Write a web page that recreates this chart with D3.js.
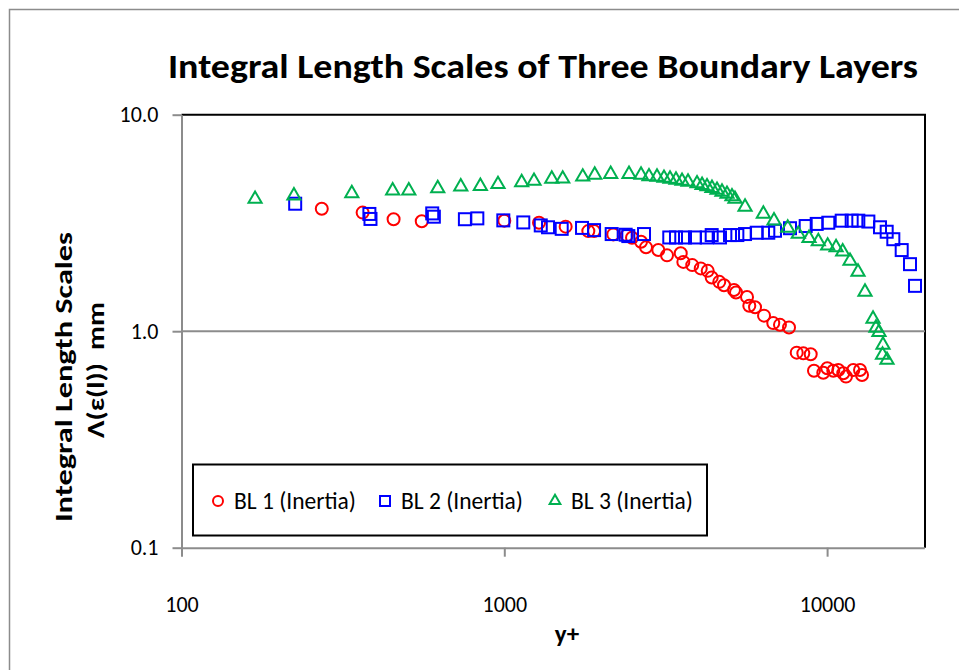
<!DOCTYPE html>
<html>
<head>
<meta charset="utf-8">
<script src="https://cdn.jsdelivr.net/npm/d3@7"></script>
<style>
  html, body { margin: 0; padding: 0; background: #fff; }
  svg { display: block; }
  text { font-family: Carlito, Calibri, Lato, "Open Sans", sans-serif; fill: #000; }
</style>
</head>
<body>
<svg id="chart" width="959" height="670"></svg>
<script>
// Boundary layer 1 (inertial range), y+ and integral length scale in mm
const bl1X = [272, 364, 454, 555, 1000, 1281, 1549, 1821, 1897, 2176, 2394, 2487, 2652, 2748, 3000, 3192,
  3520, 3586, 3822, 4060, 4267, 4390, 4634, 4793, 5147, 5222, 5648, 5741, 5981, 6377, 6811, 7145, 7621,
  8051, 8440, 8896, 9107, 9732, 10014, 10452, 10832, 11223, 11443, 12056, 12647, 12829];
const bl1Y = [3.68, 3.53, 3.29, 3.22, 3.24, 3.17, 3.04, 2.90, 2.90, 2.80, 2.77, 2.70, 2.59, 2.44, 2.37, 2.24,
  2.29, 2.09, 2.02, 1.95, 1.90, 1.77, 1.69, 1.63, 1.55, 1.51, 1.44, 1.31, 1.29, 1.18, 1.09, 1.07, 1.04,
  0.796, 0.790, 0.782, 0.657, 0.643, 0.674, 0.657, 0.662, 0.639, 0.617, 0.662, 0.662, 0.628];

// Boundary layer 2
const bl2X = [225, 382, 385, 598, 605, 755, 825, 993, 1145, 1297, 1366, 1506, 1741, 1897, 2151, 2377, 2422,
  2709, 3244, 3403, 3629, 3897, 4236, 4390, 4658, 5002, 5272, 5569, 6052, 6574, 6896, 7675, 8584, 9286,
  10086, 11098, 11916, 12495, 13422, 14584, 15296, 16038, 17025, 18064, 18722];
const bl2Y = [3.88, 3.48, 3.30, 3.50, 3.38, 3.29, 3.32, 3.25, 3.18, 3.08, 3.02, 2.97, 3.00, 2.93, 2.81, 2.79, 2.75,
  2.81, 2.71, 2.71, 2.71, 2.71, 2.71, 2.78, 2.71, 2.78, 2.78, 2.81, 2.85, 2.85, 2.91, 2.99, 3.06, 3.13,
  3.17, 3.24, 3.24, 3.24, 3.21, 3.02, 2.88, 2.66, 2.37, 2.04, 1.62];

// Boundary layer 3
const bl3X = [169, 223, 337, 451, 506, 622, 733, 843, 956, 1132, 1236, 1403, 1517, 1750, 1906, 2136, 2434,
  2652, 2807, 2972, 3124, 3261, 3403, 3553, 3708, 3954, 4099, 4246, 4399, 4560, 4725, 4896, 5074, 5183,
  5569, 6346, 6847, 7551, 8143, 8790, 9392, 10040, 10660, 11177, 11776, 12466, 13104, 13876, 14171,
  14478, 14898, 14850, 15330];
const bl3Y = [4.08, 4.23, 4.33, 4.46, 4.46, 4.57, 4.65, 4.68, 4.77, 4.87, 4.94, 5.05, 5.06, 5.17, 5.27, 5.31, 5.31,
  5.27, 5.18, 5.16, 5.10, 5.05, 5.00, 4.94, 4.89, 4.81, 4.73, 4.66, 4.58, 4.49, 4.40, 4.30, 4.19, 4.08,
  3.75, 3.48, 3.24, 3.00, 2.81, 2.69, 2.60, 2.48, 2.44, 2.33, 2.11, 1.88, 1.52, 1.14, 1.035,
  0.99, 0.864, 0.777, 0.736];

const seriesNames = ["BL 1 (Inertia)", "BL 2 (Inertia)", "BL 3 (Inertia)"];
const seriesColors = ["#FF0000", "#0000FF", "#00B050"];

const xTicks = [100, 1000, 10000];
const xTickLabels = ["100", "1000", "10000"];
const yTicks = [0.1, 1, 10];
const yTickLabels = ["0.1", "1.0", "10.0"];

const titleText = "Integral Length Scales of Three Boundary Layers";
const xTitle = "y+";
const yTitle1 = "Integral Length Scales";
const yTitle2 = "Λ(ε(l))  mm";

const svg = d3.select("#chart");
const plot = { left: 181.5, right: 925, top: 114.7, bottom: 547.7 };

const x = d3.scaleLog().domain([100, 20000]).range([plot.left, plot.left + Math.log10(200) * 322.8]);
const y = d3.scaleLog().domain([0.1, 10]).range([plot.bottom, plot.top]);

// outer chart frame
svg.append("rect")
  .attr("x", 9.5).attr("y", 9.5).attr("width", 960).attr("height", 700)
  .attr("fill", "#fff").attr("stroke", "#8c8c8c").attr("stroke-width", 1.5);

// title
svg.append("text")
  .attr("x", 543).attr("y", 78)
  .attr("text-anchor", "middle")
  .attr("font-size", 35).attr("font-weight", "bold")
  .attr("textLength", 750).attr("lengthAdjust", "spacingAndGlyphs")
  .text(titleText);

// plot border (top & right in black)
svg.append("path")
  .attr("d", `M${plot.left},${plot.top}H${plot.right}V${plot.bottom}`)
  .attr("fill", "none").attr("stroke", "#000").attr("stroke-width", 2);

// horizontal gridlines
svg.append("g").selectAll("line")
  .data(yTicks.filter(v => v > 0.1 && v < 10))
  .join("line")
  .attr("x1", plot.left).attr("x2", plot.right)
  .attr("y1", d => y(d)).attr("y2", d => y(d))
  .attr("stroke", "#8c8c8c").attr("stroke-width", 2);

// y axis
const yAxis = d3.axisLeft(y).tickValues(yTicks)
  .tickFormat((d, i) => yTickLabels[i]).tickSize(9).tickSizeOuter(0).tickPadding(14);
const gy = svg.append("g").attr("transform", `translate(${plot.left},0)`).call(yAxis);
gy.select(".domain").attr("stroke", "#8c8c8c").attr("stroke-width", 2);
gy.selectAll(".tick line").attr("stroke", "#8c8c8c").attr("stroke-width", 2);
gy.selectAll(".tick text").attr("font-size", 22).attr("font-family", "Carlito, Calibri, Lato, sans-serif").attr("fill", "#000");

// x axis
const xAxis = d3.axisBottom(x).tickValues(xTicks)
  .tickFormat((d, i) => xTickLabels[i]).tickSize(9).tickSizeOuter(0).tickPadding(40);
const gx = svg.append("g").attr("transform", `translate(0,${plot.bottom})`).call(xAxis);
gx.select(".domain").attr("stroke", "#8c8c8c").attr("stroke-width", 2);
gx.selectAll(".tick line").attr("stroke", "#8c8c8c").attr("stroke-width", 2);
gx.selectAll(".tick text").attr("font-size", 22).attr("font-family", "Carlito, Calibri, Lato, sans-serif").attr("fill", "#000");

// axis titles
svg.append("text")
  .attr("x", 567).attr("y", 642)
  .attr("text-anchor", "middle")
  .attr("font-size", 25).attr("font-weight", "bold")
  .text(xTitle);

svg.append("text")
  .attr("transform", "translate(72,377) rotate(-90)")
  .attr("text-anchor", "middle")
  .attr("font-size", 25).attr("font-weight", "bold")
  .attr("textLength", 290).attr("lengthAdjust", "spacingAndGlyphs")
  .text(yTitle1);

svg.append("text")
  .attr("transform", "translate(104,370) rotate(-90)")
  .attr("text-anchor", "middle")
  .attr("font-size", 25).attr("font-weight", "bold")
  .style("white-space", "pre")
  .attr("textLength", 136).attr("lengthAdjust", "spacingAndGlyphs")
  .text(yTitle2);

// markers
const zip = (xs, ys) => xs.map((v, i) => ({ x: v, y: ys[i] }));
const marks = svg.append("g");

marks.append("g").selectAll("circle")
  .data(zip(bl1X, bl1Y))
  .join("circle")
  .attr("cx", d => x(d.x)).attr("cy", d => y(d.y)).attr("r", 6)
  .attr("fill", "none").attr("stroke", seriesColors[0]).attr("stroke-width", 2);

marks.append("g").selectAll("rect")
  .data(zip(bl2X, bl2Y))
  .join("rect")
  .attr("x", d => x(d.x) - 6).attr("y", d => y(d.y) - 6)
  .attr("width", 12).attr("height", 12)
  .attr("fill", "none").attr("stroke", seriesColors[1]).attr("stroke-width", 2);

const tri = d3.symbol(d3.symbolTriangle, 75);
marks.append("g").selectAll("path")
  .data(zip(bl3X, bl3Y))
  .join("path")
  .attr("d", tri)
  .attr("transform", d => `translate(${x(d.x)},${y(d.y)})`)
  .attr("fill", "none").attr("stroke", seriesColors[2]).attr("stroke-width", 2);

// legend
const legend = svg.append("g");
legend.append("rect")
  .attr("x", 193).attr("y", 464.5).attr("width", 514).attr("height", 71)
  .attr("fill", "#fff").attr("stroke", "#000").attr("stroke-width", 2);

const legendX = [218, 385, 555];
const legendItems = legend.selectAll("g.item")
  .data(seriesNames)
  .join("g").attr("class", "item")
  .attr("transform", (d, i) => `translate(${legendX[i]},501)`);

legendItems.each(function (d, i) {
  const g = d3.select(this);
  if (i === 0) {
    g.append("circle").attr("r", 5).attr("fill", "none")
      .attr("stroke", seriesColors[0]).attr("stroke-width", 2);
  } else if (i === 1) {
    g.append("rect").attr("x", -5).attr("y", -5).attr("width", 10).attr("height", 10)
      .attr("fill", "none").attr("stroke", seriesColors[1]).attr("stroke-width", 2);
  } else {
    g.append("path").attr("d", d3.symbol(d3.symbolTriangle, 50)())
      .attr("fill", "none").attr("stroke", seriesColors[2]).attr("stroke-width", 2);
  }
  g.append("text")
    .attr("x", 16).attr("y", 8)
    .attr("font-size", 23.5)
    .text(d);
});
</script>
</body>
</html>
